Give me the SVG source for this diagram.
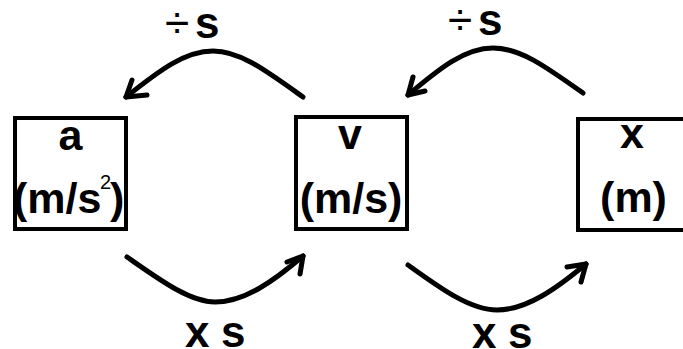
<svg xmlns="http://www.w3.org/2000/svg" width="683" height="349" viewBox="0 0 683 349">
<style>
  .box { fill: #fff; stroke: #000; stroke-width: 4; }
  .t { font-family: "Liberation Sans", Arial, sans-serif; font-weight: bold; font-size: 43px; fill: #000; }
  .sup { font-family: "Liberation Sans", Arial, sans-serif; font-weight: normal; font-size: 20px; fill: #000; }
  .lbl { font-family: "Liberation Sans", Arial, sans-serif; font-weight: bold; font-size: 44px; fill: #000; }
  .div { font-weight: normal; }
  .wire { fill: none; stroke: #000; stroke-width: 5; stroke-linecap: round; stroke-linejoin: round; }
</style>
<rect width="683" height="349" fill="#fff"/>
<g id="node-a">
  <rect class="box" x="15" y="118" width="111" height="111"/>
  <text class="t" x="70.5" y="150" text-anchor="middle">a</text>
  <text class="t"><tspan x="13" y="213">(m/s</tspan><tspan class="sup" x="100" y="189">2</tspan><tspan x="110" y="213">)</tspan></text>
</g>
<g id="node-v">
  <rect class="box" x="296" y="117" width="111" height="112"/>
  <text class="t" x="350" y="149" text-anchor="middle">v</text>
  <text class="t" x="351" y="213" text-anchor="middle">(m/s)</text>
</g>
<g id="node-x">
  <rect class="box" x="578" y="119" width="111" height="111"/>
  <text class="t" x="632" y="148" text-anchor="middle">x</text>
  <text class="t" x="633.5" y="212" text-anchor="middle">(m)</text>
</g>
<g id="connectors">
  <path class="wire" d="M303,97 C265,70 240,51 213,51 C185,51 160,70 126,97"/>
  <path class="wire" d="M132,80 L126,97 L147,95"/>
  <path class="wire" d="M583,93 C545,66 520,48 493,48 C465,48 440,68 408,95"/>
  <path class="wire" d="M413,77 L408,95 L425,91"/>
  <path class="wire" d="M127,257 C160,280 190,302 215,302 C245,302 275,280 303,256"/>
  <path class="wire" d="M287,262 L303,256 L300,274"/>
  <path class="wire" d="M408,265 C440,288 470,310 497,310 C527,310 557,288 586,264"/>
  <path class="wire" d="M567,267 L586,264 L581,282"/>
  <text class="lbl"><tspan class="div" x="165" y="38">÷</tspan><tspan x="195" y="38">s</tspan></text>
  <text class="lbl"><tspan class="div" x="448" y="35">÷</tspan><tspan x="478" y="35">s</tspan></text>
  <text class="lbl"><tspan x="185" y="347">x</tspan><tspan x="221" y="347">s</tspan></text>
  <text class="lbl"><tspan x="472" y="348">x</tspan><tspan x="508" y="348">s</tspan></text>
</g>
</svg>
